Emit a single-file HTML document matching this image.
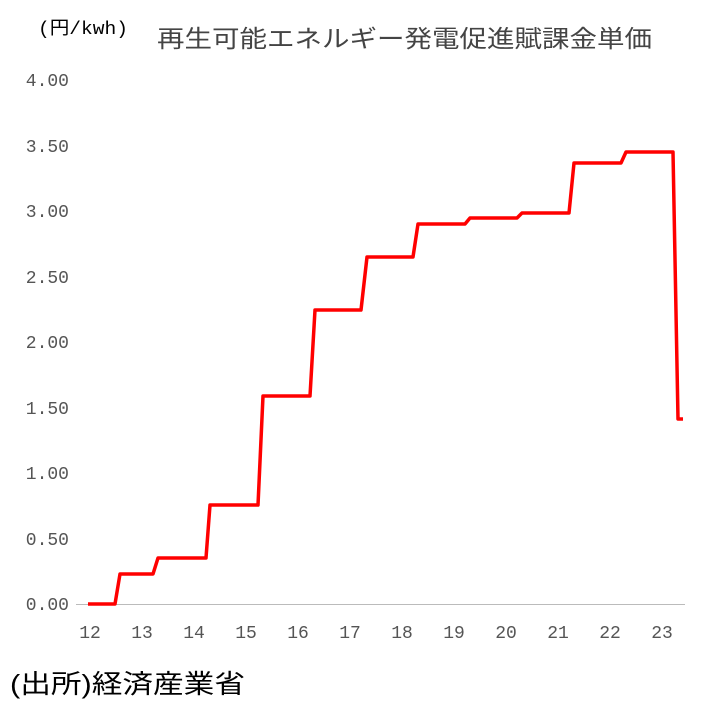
<!DOCTYPE html>
<html><head><meta charset="utf-8"><style>
body{margin:0;background:#fff;width:709px;height:701px;overflow:hidden}
</style></head><body>
<svg width="709" height="701" xmlns="http://www.w3.org/2000/svg" font-family="'Liberation Mono','Noto Sans CJK JP',monospace">
<text x="38" y="34" font-size="18" fill="#000" textLength="90" lengthAdjust="spacingAndGlyphs" font-family="'Liberation Mono','Noto Sans CJK JP',monospace">(円/kwh)</text>
<text x="157" y="47" font-size="24" fill="#444" textLength="495" lengthAdjust="spacingAndGlyphs" font-family="'Liberation Sans','Noto Sans CJK JP',sans-serif">再生可能エネルギー発電促進賦課金単価</text>
<g font-size="18" fill="#555" text-anchor="end">
<text x="69" y="86">4.00</text>
<text x="69" y="152">3.50</text>
<text x="69" y="217">3.00</text>
<text x="69" y="283">2.50</text>
<text x="69" y="348">2.00</text>
<text x="69" y="414">1.50</text>
<text x="69" y="479">1.00</text>
<text x="69" y="545">0.50</text>
<text x="69" y="610">0.00</text>
</g>
<line x1="76" y1="604.5" x2="685" y2="604.5" stroke="#bbb" stroke-width="1"/>
<g font-size="18" fill="#555" text-anchor="middle">
<text x="90" y="638">12</text><text x="142" y="638">13</text><text x="194" y="638">14</text>
<text x="246" y="638">15</text><text x="298" y="638">16</text><text x="350" y="638">17</text>
<text x="402" y="638">18</text><text x="454" y="638">19</text><text x="506" y="638">20</text>
<text x="558" y="638">21</text><text x="610" y="638">22</text><text x="662" y="638">23</text>
</g>
<polyline fill="none" stroke="#f00" stroke-width="3.5" stroke-linejoin="round" points="88,604 115,604 120,574 153,574 158,558 206,558 210,505 258,505 263,396 310,396 315,310 361,310 367,257 413,257 418,224 465,224 470,218 517,218 522,213 569,213 574,163 621,163 626,152 673,152 678,419 683,419"/>
<text x="10" y="693" font-size="26" fill="#000" textLength="235" lengthAdjust="spacingAndGlyphs" font-family="'Liberation Sans','Noto Sans CJK JP',sans-serif">(出所)経済産業省</text>
</svg>
</body></html>
